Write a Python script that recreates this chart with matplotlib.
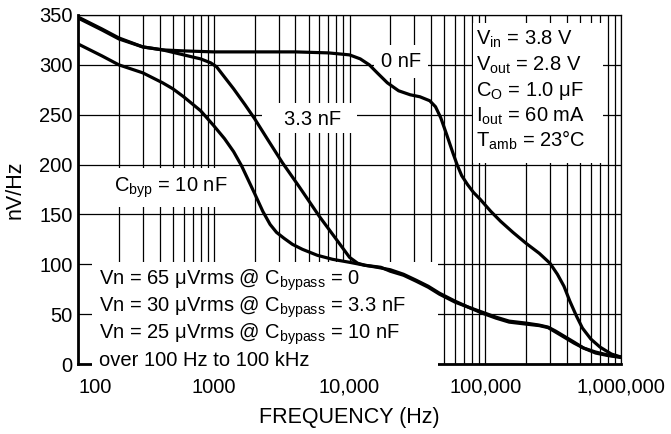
import matplotlib
matplotlib.use('Agg')
import matplotlib.pyplot as plt
from matplotlib.patches import Rectangle
from matplotlib.ticker import LogLocator, FixedLocator, FixedFormatter, NullFormatter
import numpy as np

plt.rcParams['font.family'] = ['Liberation Sans', 'DejaVu Sans']
plt.rcParams['mathtext.fontset'] = 'custom'
plt.rcParams['mathtext.rm'] = 'Liberation Sans'
plt.rcParams['mathtext.it'] = 'Liberation Sans:italic'
plt.rcParams['mathtext.bf'] = 'Liberation Sans:bold'

# ---- data ----
freq_0nf = [100, 150, 200, 300, 420, 600, 1000, 2000, 4000, 7000, 10000, 12000,
            14000, 16000, 19000, 23000, 28000, 33000, 39000, 43000, 47000, 52000,
            58000, 62000, 67000, 74000, 82000, 92000, 110000, 130000, 160000,
            200000, 250000, 300000, 340000, 380000, 420000, 470000, 520000,
            600000, 700000, 850000, 1000000]
noise_0nf = [348, 336, 327, 318, 315, 314, 313, 313, 313, 312, 310, 306,
             300, 292, 282, 274, 270, 268, 264, 258, 247, 230,
             211, 200, 189, 180, 172, 165, 153, 143, 132,
             121, 111, 101, 90, 78, 63, 48, 36,
             25, 17, 10, 7]

freq_3n3 = [100, 150, 200, 300, 420, 600, 800, 950, 1050, 1150, 1400, 1700, 2000,
            2500, 3200, 4300, 6000, 8000, 10000, 11500, 13000, 16000, 20000,
            25000, 31000, 38000, 46000, 60000, 75000, 95000, 120000, 150000,
            200000, 250000, 290000, 330000, 380000, 450000, 530000, 650000,
            800000, 1000000]
noise_3n3 = [347, 335, 326, 318, 315, 310, 306, 302, 298, 291, 276, 260, 246,
             225, 202, 177, 148, 125, 107, 101, 99, 97, 94.5,
             90, 84, 78, 71, 63, 57, 52, 47, 43,
             41, 39, 37, 33, 28, 22, 16, 12,
             9, 7]

freq_10n = [100, 150, 200, 300, 420, 500, 600, 800, 1000, 1200, 1400, 1600, 2000,
            2300, 2600, 2900, 3300, 3800, 4500, 5800, 7500, 10000, 13000, 17000,
            20000, 25000, 31000, 38000, 46000, 60000, 75000, 95000, 120000,
            150000, 200000, 250000, 290000, 330000, 380000, 450000, 530000,
            650000, 800000, 1000000]
noise_10n = [321, 309, 300, 292, 282, 276, 268, 254, 239, 226, 213, 199, 171,
             153, 140, 132, 126, 120, 115, 109, 105, 102, 99, 97,
             93, 89, 83, 77, 70, 62, 57, 51, 46,
             42, 40, 38.5, 36.5, 32, 27, 21, 16,
             11, 8.5, 6.5]

x_ticks = [100, 1000, 10000, 100000, 1000000]
x_tick_labels = ['100', '1000', '10,000', '100,000', '1,000,000']
y_ticks = [0, 50, 100, 150, 200, 250, 300, 350]

conditions = [r'V$_{\mathrm{in}}$ = 3.8 V',
              r'V$_{\mathrm{out}}$ = 2.8 V',
              r'C$_{\mathrm{O}}$ = 1.0 μF',
              r'I$_{\mathrm{out}}$ = 60 mA',
              r'T$_{\mathrm{amb}}$ = 23°C']
notes = [r'Vn = 65 μVrms @ C$_{\mathrm{bypass}}$ = 0',
         r'Vn = 30 μVrms @ C$_{\mathrm{bypass}}$ = 3.3 nF',
         r'Vn = 25 μVrms @ C$_{\mathrm{bypass}}$ = 10 nF',
         'over 100 Hz to 100 kHz']

# ---- figure ----
W, H = 671, 434
fs = 14.5
fig = plt.figure(figsize=(W / 100, H / 100), dpi=100)
ax = fig.add_axes([78 / W, 1 - 364 / H, 543 / W, 349 / H])
ax.set_xscale('log')
ax.set_xlim(100, 1e6)
ax.set_ylim(0, 350)

ax.xaxis.set_major_locator(FixedLocator(x_ticks))
ax.xaxis.set_major_formatter(FixedFormatter(x_tick_labels))
ax.xaxis.set_minor_locator(LogLocator(base=10, subs=np.arange(2, 10)))
ax.xaxis.set_minor_formatter(NullFormatter())
ax.set_yticks(y_ticks)
ax.tick_params(which='both', length=0)
ax.tick_params(axis='x', labelsize=fs, pad=10)
ax.tick_params(axis='y', labelsize=fs, pad=4)
ax.get_xticklabels()[0].set_horizontalalignment('left')

ax.set_axisbelow(True)
ax.grid(which='both', axis='x', color='black', lw=0.9)
ax.grid(which='major', axis='y', color='black', lw=0.9)

for s in ['left', 'bottom']:
    ax.spines[s].set_linewidth(2.0)
for s in ['top', 'right']:
    ax.spines[s].set_linewidth(0.9)

# white boxes hiding the grid (the lower one also hides part of the bottom axis line)
ax.add_patch(Rectangle((0.0258, -0.01), 0.637, 0.302, transform=ax.transAxes,
                       facecolor='white', edgecolor='none', zorder=2.6, clip_on=False))
ax.add_patch(Rectangle((0.7274, 0.576), 0.2395, 0.401, transform=ax.transAxes,
                       facecolor='white', edgecolor='none', zorder=1))
# box behind the "3.3 nF" label (axes fractions)
ax.add_patch(Rectangle((0.339, 0.662), 0.175, 0.086, transform=ax.transAxes,
                       facecolor='white', edgecolor='none', zorder=1))

lw = 2.3
ax.plot(freq_0nf, noise_0nf, color='black', lw=lw, zorder=3, solid_joinstyle='round')
ax.plot(freq_3n3, noise_3n3, color='black', lw=lw, zorder=3, solid_joinstyle='round')
ax.plot(freq_10n, noise_10n, color='black', lw=lw, zorder=3, solid_joinstyle='round')

box = dict(boxstyle='square,pad=0.35', facecolor='white', edgecolor='none')
ax.text(23900, 298, '0 nF', fontsize=fs, ha='center', va='baseline', bbox=box, zorder=2.5)
ax.text(5300, 240, '3.3 nF', fontsize=fs, ha='center', va='baseline', zorder=2.5)
ax.text(484, 173, r'C$_{\mathrm{byp}}$ = 10 nF', fontsize=fs, ha='center', va='baseline',
        bbox=box, zorder=2.5)

for i, t in enumerate(conditions):
    ax.text(0.733, 0.914 - i * 0.073, t, transform=ax.transAxes, fontsize=fs,
            ha='left', va='baseline', zorder=4)
for i, t in enumerate(notes):
    ax.text(0.0387, 0.2264 - i * 0.0775, t, transform=ax.transAxes, fontsize=fs,
            ha='left', va='baseline', zorder=4)

ax.set_xlabel('FREQUENCY (Hz)', fontsize=15.5)
ax.xaxis.set_label_coords(0.5, -0.123)
ax.set_ylabel('nV/Hz', fontsize=15.5)
ax.yaxis.set_label_coords(-0.096, 0.5)

fig.savefig('out.png', dpi=100, facecolor='white')
